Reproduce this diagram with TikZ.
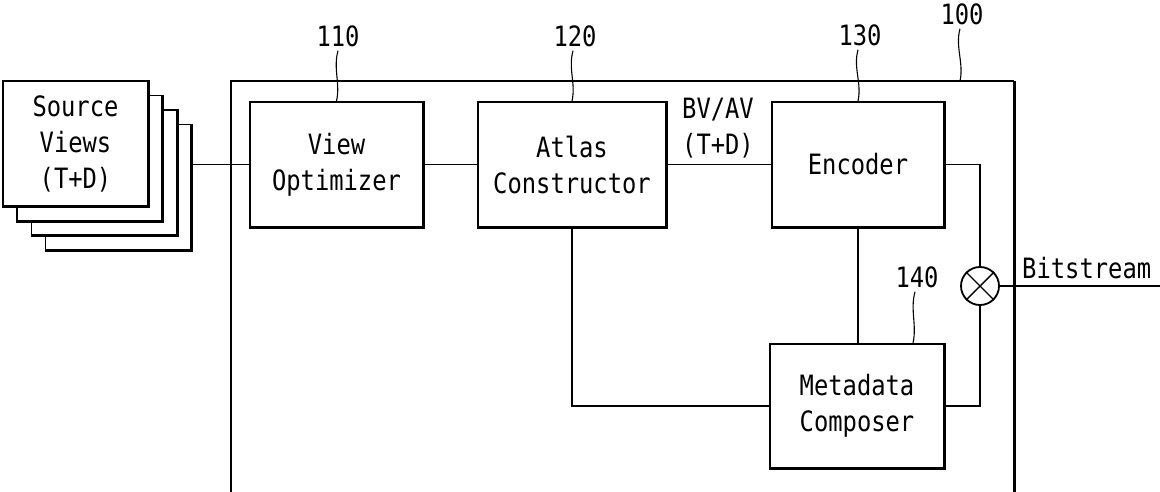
\documentclass[tikz,border=0pt]{standalone}
\usepackage{fontspec}
\setmainfont{DejaVu Sans Mono}[FakeStretch=0.85]
\begin{document}
\begin{tikzpicture}[x=1pt,y=-1pt,
  every node/.style={font=\fontsize{28}{36}\selectfont},
  blk/.style={draw,line width=1.8pt,fill=white,inner sep=0pt,align=center},
  conn/.style={line width=1.4pt},
  heavy/.style={line width=3pt},
  lead/.style={line width=1.1pt},
  num/.style={inner sep=0pt}]
\useasboundingbox (0,0) rectangle (1160,492);
% outer system box 100
\coordinate (olb) at (231,492);
\coordinate (olt) at (231,81);
\coordinate (ort) at (1014,81);
\coordinate (orb) at (1014,492);
\draw[line width=1.8pt] (olb) -- (olt) -- (ort);
\draw[heavy] (ort) -- (orb);
% source views stack
\node[blk,minimum width=145,minimum height=125] (sv4) at (118,187) {};
\node[blk,minimum width=145,minimum height=125] (sv3) at (104,172.5) {};
\node[blk,minimum width=145,minimum height=125] (sv2) at (89.5,158) {};
\node[blk,minimum width=145,minimum height=125] (sv1) at (75.5,143.5) {Source\\Views\\(T+D)};
\foreach \s in {sv4,sv3,sv2,sv1}{\draw[heavy] (\s.north east) -- (\s.south east) -- (\s.south west);}
% blocks
\node[blk,minimum width=173,minimum height=125] (vo) at (336.5,164.5) {View\\Optimizer};
\node[blk,minimum width=188,minimum height=125] (atl) at (572,164.5) {Atlas\\Constructor};
\node[blk,minimum width=172,minimum height=125] (enc) at (858,164.5) {Encoder};
\node[blk,minimum width=174,minimum height=124] (meta) at (857,406) {Metadata\\Composer};
\foreach \s in {vo,atl,enc,meta}{\draw[heavy] (\s.north east) -- (\s.south east) -- (\s.south west);}
\node[draw,circle,line width=1.8pt,minimum size=38,inner sep=0pt] (mux) at (980,286) {};
\draw[line width=1.4pt] (mux.north west) -- (mux.south east) (mux.north east) -- (mux.south west);
% connectors
\draw[conn] (sv4.east |- vo.west) -- (vo.west);
\draw[conn] (vo.east) -- (atl.west);
\draw[conn] (atl.east) -- (enc.west);
\node[num,align=center] (bvav) at (718,128.5) {BV/AV\\(T+D)};
\draw[conn] (enc.east) -| (mux.north);
\draw[conn] (mux.south) |- (meta.east);
\draw[conn] (atl.south) |- (meta.west);
\draw[conn] (enc.south) -- (enc.south |- meta.north);
\coordinate (bsend) at (1160,286);
\draw[conn] (mux.east) -- (bsend);
\node[num,anchor=base west] (bs) at (1022,278) {Bitstream};
% reference numerals with leaders
\node[num] (n110) at (338,36) {110};
\node[num] (n120) at (575,36) {120};
\node[num] (n130) at (860,35) {130};
\node[num] (n100) at (962,14) {100};
\node[num] (n140) at (917,277) {140};
\draw[lead] (n110.south) ++(0,4) .. controls +(-5,18) and +(4,-18) .. (vo.north);
\draw[lead] (n120.south) ++(-2,4) .. controls +(-5,18) and +(4,-18) .. (atl.north);
\draw[lead] (n130.south) ++(-2,4) .. controls +(-5,18) and +(4,-18) .. (enc.north);
\draw[lead] (n100.south) ++(-2,4) .. controls +(-5,18) and +(4,-18) .. (960,81);
\draw[lead] (n140.south) ++(-2,4) .. controls +(-5,18) and +(4,-18) .. (meta.north -| 913,0);
\end{tikzpicture}
\end{document}
